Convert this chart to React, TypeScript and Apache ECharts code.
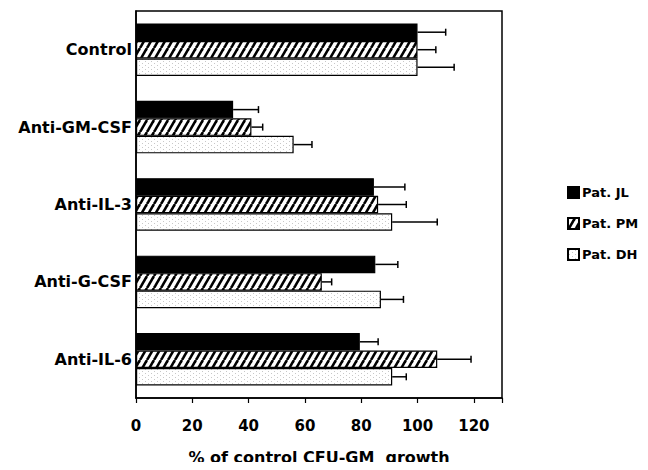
import React, { useEffect, useRef } from "react";
import * as echarts from "echarts";

const categories = ["Control", "Anti-GM-CSF", "Anti-IL-3", "Anti-G-CSF", "Anti-IL-6"];
const seriesNames = ["Pat. JL", "Pat. PM", "Pat. DH"];
const valuesJL = [100, 34.5, 84.5, 85, 79.5];
const valuesPM = [100, 41, 86, 66, 107];
const valuesDH = [100, 56, 91, 87, 91];
const errJL = [10, 9, 11, 8, 6.5];
const errPM = [6.5, 4, 10, 3.5, 12];
const errDH = [13, 6.5, 16, 8, 5];
const xTicks = [0, 20, 40, 60, 80, 100, 120];

const FONT = "DejaVu Sans";
const BAR_W = 17.5;

function hatchPattern(): HTMLCanvasElement {
  const c = document.createElement("canvas");
  const w = 7, h = 12;
  c.width = w; c.height = h;
  const ctx = c.getContext("2d")!;
  ctx.fillStyle = "#fff";
  ctx.fillRect(0, 0, w, h);
  ctx.strokeStyle = "#000";
  ctx.lineWidth = 2.6;
  for (const dx of [-w, 0, w]) {
    ctx.beginPath();
    ctx.moveTo(dx, h);
    ctx.lineTo(dx + w, 0);
    ctx.stroke();
  }
  return c;
}

function dotPattern(): HTMLCanvasElement {
  const c = document.createElement("canvas");
  const w = 6, h = 4;
  c.width = w; c.height = h;
  const ctx = c.getContext("2d")!;
  ctx.fillStyle = "#fff";
  ctx.fillRect(0, 0, w, h);
  ctx.fillStyle = "#c8c8c8";
  ctx.fillRect(1, 1, 1, 1);
  ctx.fillRect(4, 3, 1, 1);
  return c;
}

export default function App() {
  const ref = useRef<HTMLDivElement>(null);
  useEffect(() => {
    if (!ref.current) return;
    const chart = echarts.init(ref.current, undefined, { renderer: "svg" });
    const fills: any[] = [
      "#000",
      { image: hatchPattern(), repeat: "repeat" },
      { image: dotPattern(), repeat: "repeat" },
    ];
    const vals = [valuesJL, valuesPM, valuesDH];
    const errs = [errJL, errPM, errDH];

    const barSeries = seriesNames.map((name, i) => ({
      type: "bar",
      name,
      data: vals[i],
      barWidth: BAR_W,
      barGap: "0%",
      itemStyle: { color: fills[i], borderColor: "#000", borderWidth: 1.2 },
      emphasis: { disabled: true },
    }));

    const errSeries = seriesNames.map((name, i) => ({
      type: "custom",
      name: name + " err",
      data: categories.map((_, k) => [k, vals[i][k], vals[i][k] + errs[i][k]]),
      encode: { x: [1, 2], y: 0 },
      renderItem: (params: any, api: any) => {
        const cat = api.value(0);
        const p0 = api.coord([api.value(1), cat]);
        const p1 = api.coord([api.value(2), cat]);
        const y = p0[1] + (i - 1) * BAR_W;
        const cap = 3.5;
        return {
          type: "group",
          children: [
            { type: "line", shape: { x1: p0[0], y1: y, x2: p1[0], y2: y }, style: { stroke: "#000", lineWidth: 1.5 } },
            { type: "line", shape: { x1: p1[0], y1: y - cap, x2: p1[0], y2: y + cap }, style: { stroke: "#000", lineWidth: 1.5 } },
          ],
        };
      },
      z: 3,
      silent: true,
    }));

    chart.setOption({
      animation: false,
      backgroundColor: "#fff",
      grid: {
        left: 136, right: 146, top: 11, bottom: 71,
        show: true, borderColor: "#000", borderWidth: 1.5, backgroundColor: "transparent",
      },
      legend: {
        data: seriesNames,
        orient: "vertical",
        left: 562,
        top: 181,
        itemWidth: 11,
        itemHeight: 11,
        itemGap: 18,
        icon: "rect",
        textStyle: { fontFamily: FONT, fontWeight: "bold", fontSize: 13, color: "#000", padding: [0, 0, 0, -2] },
        selectedMode: false,
      },
      xAxis: {
        type: "value",
        min: 0,
        max: 130,
        interval: 20,
        name: "% of control CFU-GM  growth",
        nameLocation: "middle",
        nameGap: 51,
        nameTextStyle: { fontFamily: FONT, fontWeight: "bold", fontSize: 16, color: "#000" },
        axisLine: { show: true, lineStyle: { color: "#000", width: 1.5 } },
        axisTick: { show: true, inside: false, length: 5, lineStyle: { color: "#000", width: 1.2 } },
        splitLine: { show: false },
        axisLabel: {
          fontFamily: FONT, fontWeight: "bold", fontSize: 15, color: "#000", margin: 20,
          formatter: (v: number) => (xTicks.includes(v) ? String(v) : ""),
        },
      },
      yAxis: {
        type: "category",
        data: categories,
        inverse: true,
        axisLine: { show: true, lineStyle: { color: "#000", width: 1.5 } },
        axisTick: { show: false },
        axisLabel: { fontFamily: FONT, fontWeight: "bold", fontSize: 16, color: "#000", margin: 4 },
      },
      series: [...barSeries, ...errSeries],
    });
    return () => chart.dispose();
  }, []);
  return <div ref={ref} style={{ width: 648, height: 470, margin: -8 }} />;
}
